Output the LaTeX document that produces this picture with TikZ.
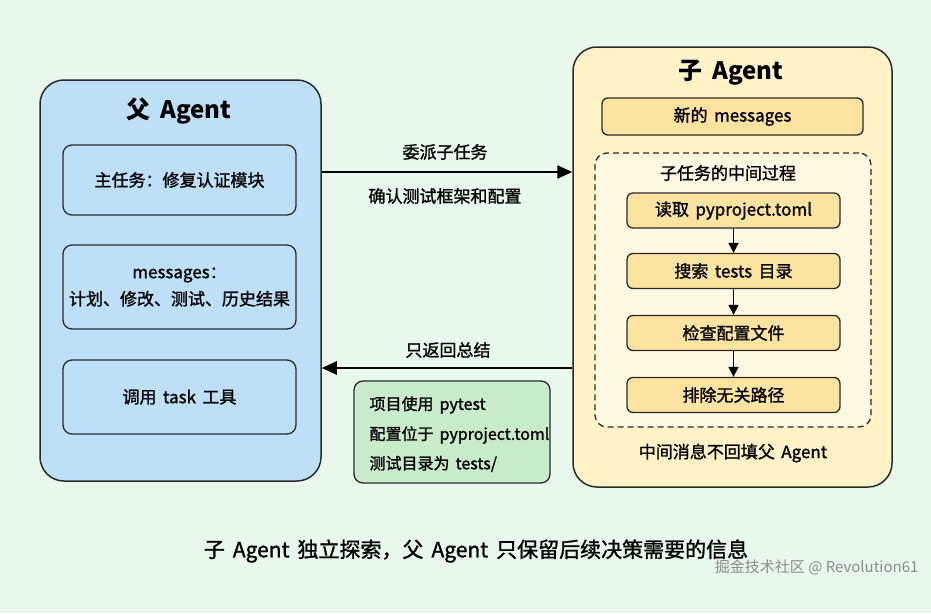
\documentclass[tikz,border=0pt]{standalone}
\usepackage{fontspec}
\setmainfont{Noto Sans CJK SC}[UprightFeatures={FakeBold=1.3}, WordSpace=1.7]
\newfontfamily\wmfont{Noto Sans CJK SC}
\usetikzlibrary{arrows.meta}
\definecolor{bgc}{HTML}{E9F8EC}
\definecolor{bluef}{HTML}{BEDFF8}
\definecolor{yelf}{HTML}{FFF2C6}
\definecolor{yelbox}{HTML}{FCE3A0}
\definecolor{dashf}{HTML}{FFF8E2}
\definecolor{greenf}{HTML}{C8EBCB}
\definecolor{edge}{HTML}{2A2A2A}
\tikzset{
  outerbox/.style={draw=edge, line width=1.5pt, rounded corners=24pt},
  innerbox/.style={draw=edge, line width=1.3pt, rounded corners=9pt, align=center, font=\fontsize{17}{27}\selectfont},
  stepbox/.style={innerbox, fill=yelbox, minimum width=213pt, minimum height=35pt, rounded corners=6pt, inner sep=0pt},
  bluebox/.style={innerbox, fill=bluef, minimum width=233pt, inner sep=0pt},
  bigarrow/.style={line width=2.4pt, draw=black, -{Triangle[length=15pt,width=13pt]}},
  smallarrow/.style={line width=1.5pt, draw=black, -{Triangle[length=10pt,width=10pt]}},
  lbl/.style={font=\fontsize{17}{20}\selectfont},
  sumtxt/.style={font=\fontsize{16}{20}\selectfont, anchor=west},
  ttl/.style={font=\fontsize{24}{28}\selectfont\bfseries},
}
\begin{document}
\begin{tikzpicture}[x=1pt,y=-1pt]
\fill[bgc] (0,0) rectangle (931,613);
\useasboundingbox (0,0) rectangle (931,613);

% parent agent
\node[outerbox, fill=bluef, minimum width=281pt, minimum height=401pt] (parent) at (180.5,280.5) {};
\node[ttl] (ptitle) at (179,111) {父 Agent};
\node[bluebox, minimum height=70pt] (pb1) at (179.5,180) {主任务：修复认证模块};
\node[bluebox, minimum height=84pt] (pb2) at (179.5,287) {messages：\\计划、修改、测试、历史结果};
\node[bluebox, minimum height=74pt] (pb3) at (179.5,397) {调用 task 工具};

% child agent
\node[outerbox, fill=yelf, minimum width=319pt, minimum height=440pt] (child) at (732.5,267) {};
\node[ttl] (ctitle) at (731,73) {子 Agent};
\node[stepbox, minimum width=261pt, minimum height=37pt] (newmsg) at (732.5,116.5) {新的 messages};
\node[draw=edge, line width=1.3pt, dash pattern=on 6pt off 4pt, rounded corners=12pt, fill=dashf, minimum width=276pt, minimum height=274pt] (dbox) at (733,290) {};
\node[lbl] (dtitle) at (728,173) {子任务的中间过程};
\node[stepbox] (s1) at (733.5,210.5) {读取 pyproject.toml};
\node[stepbox] (s2) at (733.5,271) {搜索 tests 目录};
\node[stepbox] (s3) at (733.5,333) {检查配置文件};
\node[stepbox] (s4) at (733.5,395) {排除无关路径};
\draw[smallarrow] (s1) -- (s2);
\draw[smallarrow] (s2) -- (s3);
\draw[smallarrow] (s3) -- (s4);
\node[lbl] (cnote) at (733,453) {中间消息不回填父 Agent};

% arrows between
\coordinate (ytop) at (0,172);
\coordinate (ybot) at (0,368);
\draw[bigarrow] (parent.east |- ytop) -- (child.west |- ytop);
\draw[bigarrow] (child.west |- ybot) -- (parent.east |- ybot);
\node[lbl] (l1) at (445,152) {委派子任务};
\node[lbl] (l2) at (445,196) {确认测试框架和配置};
\node[lbl] (l3) at (448,350) {只返回总结};

% summary box
\node[draw=edge, line width=1.3pt, rounded corners=9pt, fill=greenf, minimum width=196pt, minimum height=102pt] (sum) at (452,432) {};
\node[sumtxt] (sm1) at (366,405) {项目使用 pytest};
\node[sumtxt] (sm2) at (366,435) {配置位于 pyproject.toml};
\node[sumtxt] (sm3) at (366,464) {测试目录为 tests/};

% caption
\node[font=\fontsize{21}{24}\selectfont] (cap) at (476,551) {子 Agent 独立探索，父 Agent 只保留后续决策需要的信息};
\node[font=\wmfont\fontsize{15}{18}\selectfont, text=black!45, anchor=east] (wm) at (922,567) {掘金技术社区 @ Revolution61};
\end{tikzpicture}
\end{document}
